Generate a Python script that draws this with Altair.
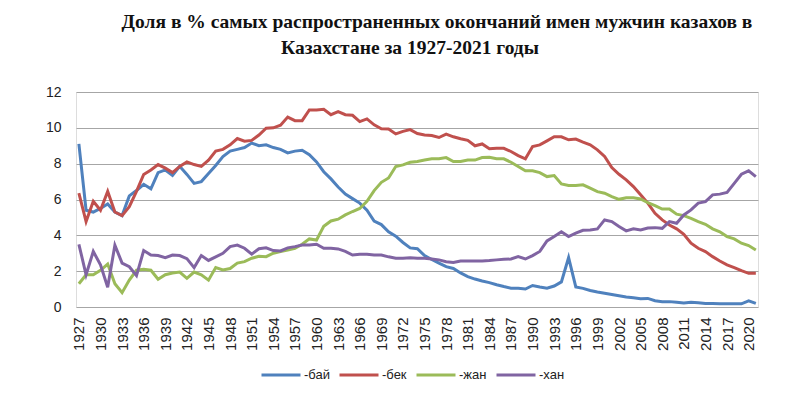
import altair as alt
import pandas as pd

years = list(range(1927, 2022))

bai = [9.1, 5.4, 5.3, 5.5, 5.75, 5.3, 5.1, 6.2, 6.5, 6.85,
       6.6, 7.5, 7.65, 7.35, 7.85, 7.4, 6.9, 7.0, 7.45, 7.9,
       8.4, 8.7, 8.8, 8.9, 9.15, 9.0, 9.05, 8.9, 8.8, 8.6,
       8.7, 8.75, 8.5, 8.1, 7.55, 7.15, 6.7, 6.3, 6.05, 5.8,
       5.4, 4.8, 4.6, 4.2, 3.95, 3.6, 3.3, 3.25, 2.87, 2.65,
       2.45, 2.25, 2.15, 1.9, 1.7, 1.56, 1.45, 1.36, 1.24, 1.14,
       1.05, 1.04, 1.0, 1.2, 1.12, 1.05, 1.17, 1.4, 2.76, 1.12,
       1.04, 0.92, 0.84, 0.77, 0.7, 0.63, 0.56, 0.52, 0.46, 0.48,
       0.35, 0.3, 0.3, 0.26, 0.22, 0.26, 0.24, 0.2, 0.2, 0.18,
       0.18, 0.18, 0.18, 0.34, 0.2]

bek = [6.35, 4.77, 5.9, 5.4, 6.45, 5.3, 5.1, 5.6, 6.45, 7.4,
       7.65, 7.95, 7.75, 7.5, 7.85, 8.1, 7.95, 7.85, 8.2, 8.7,
       8.8, 9.05, 9.4, 9.25, 9.3, 9.6, 9.98, 10.0, 10.15, 10.6,
       10.4, 10.4, 11.0, 11.0, 11.04, 10.73, 10.9, 10.73, 10.7, 10.35,
       10.5, 10.17, 9.95, 9.93, 9.66, 9.8, 9.9, 9.68, 9.6, 9.57,
       9.46, 9.65, 9.5, 9.39, 9.3, 9.0, 9.1, 8.83, 8.86, 8.86,
       8.68, 8.45, 8.27, 8.96, 9.05, 9.27, 9.5, 9.5, 9.33, 9.37,
       9.2, 9.05, 8.77, 8.4, 7.78, 7.41, 7.1, 6.72, 6.26, 5.8,
       5.23, 4.86, 4.58, 4.36, 4.06, 3.56, 3.28, 3.09, 2.81, 2.57,
       2.35, 2.2, 2.03, 1.88, 1.88]

zhan = [1.3, 1.8, 1.8, 2.05, 2.4, 1.3, 0.8, 1.5, 2.05, 2.1,
        2.05, 1.55, 1.8, 1.9, 1.95, 1.6, 1.95, 1.8, 1.5, 2.2,
        2.07, 2.15, 2.45, 2.53, 2.72, 2.83, 2.81, 3.0, 3.1, 3.18,
        3.28, 3.5, 3.8, 3.74, 4.5, 4.8, 4.9, 5.14, 5.33, 5.5,
        5.9, 6.5, 6.96, 7.2, 7.84, 7.93, 8.08, 8.12, 8.2, 8.27,
        8.27, 8.34, 8.12, 8.12, 8.2, 8.2, 8.34, 8.36, 8.27, 8.27,
        8.08, 7.84, 7.6, 7.6, 7.5, 7.28, 7.34, 6.87, 6.78, 6.78,
        6.82, 6.63, 6.44, 6.35, 6.16, 6.01, 6.1, 6.1, 6.03, 5.82,
        5.66, 5.47, 5.47, 5.18, 5.1, 4.95, 4.77, 4.62, 4.36, 4.2,
        3.93, 3.8, 3.56, 3.43, 3.18]

khan = [3.5, 1.8, 3.1, 2.35, 1.1, 3.45, 2.45, 2.25, 1.75, 3.15,
        2.9, 2.87, 2.75, 2.9, 2.87, 2.7, 2.2, 2.87, 2.6, 2.8,
        3.0, 3.37, 3.46, 3.28, 2.95, 3.25, 3.3, 3.15, 3.13, 3.3,
        3.37, 3.46, 3.46, 3.5, 3.28, 3.28, 3.24, 3.1, 2.9, 2.94,
        2.94, 2.9, 2.9, 2.8, 2.72, 2.72, 2.75, 2.72, 2.72, 2.68,
        2.63, 2.53, 2.48, 2.57, 2.57, 2.57, 2.57, 2.59, 2.63, 2.66,
        2.68, 2.81, 2.68, 2.87, 3.1, 3.69, 3.93, 4.2, 3.93, 4.12,
        4.28, 4.3, 4.36, 4.86, 4.77, 4.49, 4.25, 4.36, 4.3, 4.41,
        4.43, 4.39, 4.77, 4.67, 5.14, 5.42, 5.8, 5.88, 6.26, 6.3,
        6.4, 6.9, 7.41, 7.6, 7.28]

series_names = ["-бай", "-бек", "-жан", "-хан"]
series_colors = ["#4F81BD", "#C0504D", "#9BBB59", "#8064A2"]
x_tick_years = list(range(1927, 2021, 3))
y_ticks = [0, 2, 4, 6, 8, 10, 12]
title_line1 = "Доля в % самых распространенных окончаний имен мужчин казахов в"
title_line2 = "Казахстане за 1927-2021 годы"

rows = []
for name, vals in zip(series_names, [bai, bek, zhan, khan]):
    for yr, v in zip(years, vals):
        rows.append({"year": yr, "value": v, "series": name})
df = pd.DataFrame(rows)
title_df1 = pd.DataFrame({"t": [title_line1]})
title_df2 = pd.DataFrame({"t": [title_line2]})

lines = alt.Chart(df).mark_line(strokeWidth=3).encode(
    x=alt.X("year:Q",
            scale=alt.Scale(domain=[1926.6, 2021.3], nice=False, zero=False),
            axis=alt.Axis(values=x_tick_years, format="d", labelAngle=270,
                          grid=False, ticks=False, domain=False,
                          labelPadding=10, labelFontSize=15,
                          labelFont="Liberation Sans", labelColor="#222",
                          title=None, labelOverlap=False)),
    y=alt.Y("value:Q",
            scale=alt.Scale(domain=[0, 12], nice=False),
            axis=alt.Axis(values=y_ticks, grid=True, gridColor="#A6A6A6",
                          gridWidth=1, ticks=False, domain=False,
                          labelPadding=15, labelFontSize=14,
                          labelFont="Liberation Sans", labelColor="#222",
                          title=None)),
    color=alt.Color("series:N",
                    scale=alt.Scale(domain=series_names, range=series_colors),
                    sort=series_names,
                    legend=alt.Legend(title=None, orient="none",
                                      direction="horizontal",
                                      legendX=184, legendY=262, offset=0,
                                      symbolType="stroke", symbolSize=1521,
                                      symbolStrokeWidth=3, labelFontSize=13,
                                      labelFont="Liberation Sans",
                                      labelColor="#222", columnPadding=3,
                                      labelOffset=2)),
)

t1 = alt.Chart(title_df1).mark_text(
    font="Liberation Serif", fontSize=19.5, fontWeight="bold", color="#111",
    align="center", baseline="alphabetic"
).encode(x=alt.value(361), y=alt.value(-64), text="t:N")

t2 = alt.Chart(title_df2).mark_text(
    font="Liberation Serif", fontSize=19.5, fontWeight="bold", color="#111",
    align="center", baseline="alphabetic"
).encode(x=alt.value(334), y=alt.value(-38), text="t:N")

chart = alt.layer(lines, t1, t2).properties(
    width=682,
    height=215,
    autosize=alt.AutoSizeParams(type="none"),
    padding={"left": 68, "top": 84, "right": 26, "bottom": 90},
).configure_view(stroke=None).configure(background="white")

chart.save("out.html", embed_options={"renderer": "svg", "actions": False})
